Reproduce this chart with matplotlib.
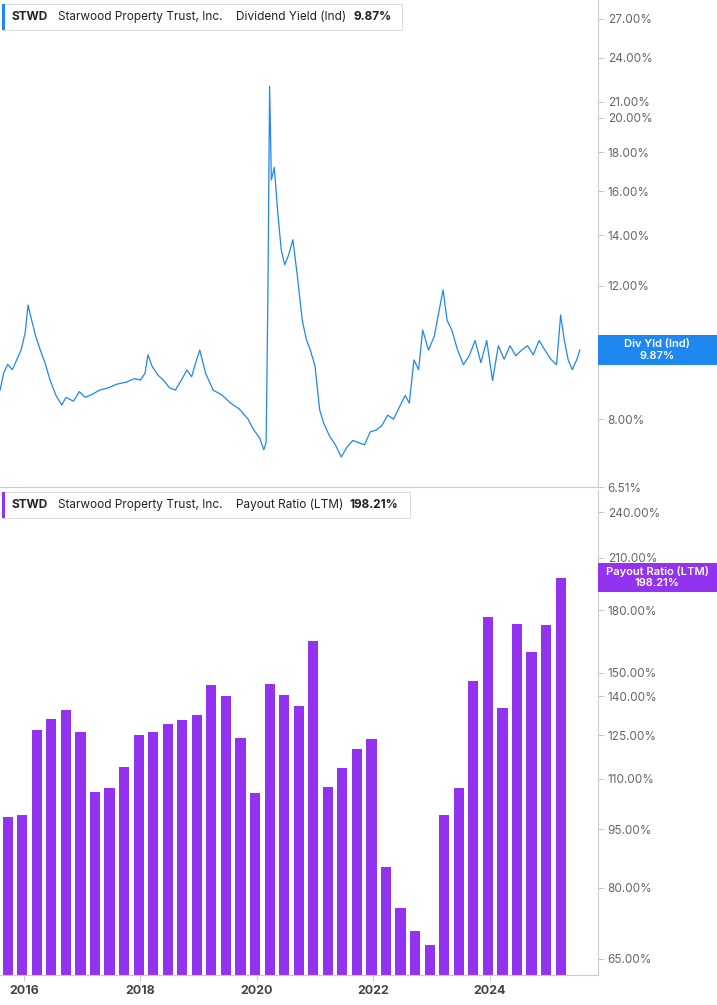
import matplotlib
matplotlib.use("Agg")
import matplotlib.pyplot as plt
from matplotlib.ticker import FixedLocator, NullLocator, FixedFormatter
from matplotlib.patches import Rectangle

plt.rcParams["font.family"] = "Inter"

# Dividend yield (%) - hand-read key points
yld_dates = [2015.59, 2015.65, 2015.72, 2015.80, 2015.88, 2015.95, 2016.02, 2016.07, 2016.12, 2016.20,
             2016.28, 2016.36, 2016.45, 2016.55, 2016.65, 2016.72, 2016.85, 2016.95, 2017.05, 2017.15,
             2017.30, 2017.45, 2017.60, 2017.75, 2017.90, 2018.00, 2018.08, 2018.13, 2018.20, 2018.30,
             2018.40, 2018.50, 2018.60, 2018.70, 2018.80, 2018.88, 2018.95, 2019.02, 2019.12, 2019.25,
             2019.40, 2019.55, 2019.70, 2019.85, 2019.95, 2020.05, 2020.12, 2020.16, 2020.19, 2020.22,
             2020.25, 2020.30, 2020.36, 2020.42, 2020.48, 2020.55, 2020.62, 2020.70, 2020.78, 2020.85,
             2020.92, 2021.00, 2021.08, 2021.15, 2021.25, 2021.35, 2021.45, 2021.55, 2021.65, 2021.75,
             2021.85, 2021.95, 2022.05, 2022.15, 2022.25, 2022.35, 2022.45, 2022.55, 2022.62, 2022.70,
             2022.78, 2022.85, 2022.95, 2023.05, 2023.12, 2023.20, 2023.27, 2023.35, 2023.45, 2023.55,
             2023.65, 2023.75, 2023.85, 2023.95, 2024.05, 2024.15, 2024.25, 2024.35, 2024.45, 2024.55,
             2024.65, 2024.75, 2024.85, 2024.95, 2025.05, 2025.15, 2025.22, 2025.28, 2025.35, 2025.42,
             2025.50, 2025.55]
yld_vals = [8.74, 9.20, 9.45, 9.30, 9.60, 9.87, 10.40, 11.32, 10.90, 10.30,
            9.87, 9.50, 9.00, 8.60, 8.35, 8.55, 8.45, 8.70, 8.55, 8.61,
            8.74, 8.80, 8.90, 8.95, 9.05, 9.01, 9.20, 9.73, 9.40, 9.15,
            9.00, 8.80, 8.74, 9.00, 9.29, 9.10, 9.50, 9.87, 9.20, 8.74,
            8.61, 8.40, 8.25, 8.00, 7.74, 7.55, 7.29, 7.45, 11.49, 22.00,
            16.55, 17.20, 15.00, 13.38, 12.79, 13.20, 13.80, 12.30, 10.82, 10.20,
            9.87, 9.40, 8.23, 7.90, 7.60, 7.40, 7.13, 7.35, 7.50, 7.45,
            7.40, 7.70, 7.74, 7.85, 8.10, 8.00, 8.30, 8.60, 8.40, 9.58,
            9.30, 10.49, 9.87, 10.30, 11.00, 11.85, 10.80, 10.49, 9.87, 9.44,
            9.70, 10.16, 9.50, 10.16, 9.00, 10.00, 9.60, 10.00, 9.70, 9.87,
            10.00, 9.73, 10.16, 9.87, 9.60, 9.44, 10.98, 10.20, 9.58, 9.30,
            9.60, 9.87]

# Payout ratio (LTM, %) quarterly
bar_dates = [2015.72 + 0.25 * i for i in range(39)]
payout = [98.4, 99.0, 127.0, 131.0, 134.6, 126.0, 105.9, 107.0, 114.0, 125.0,
          126.0, 129.0, 130.6, 132.6, 144.8, 140.0, 124.0, 105.5, 145.0, 140.5,
          136.0, 164.6, 107.5, 113.5, 120.0, 123.5, 85.0, 75.5, 70.5, 67.7,
          99.0, 107.0, 146.5, 176.6, 135.5, 173.0, 159.5, 172.5, 198.2]

top_ticks = [6.51, 8, 10, 12, 14, 16, 18, 20, 21, 24, 27]
top_labels = ["6.51%", "8.00%", "10.00%", "12.00%", "14.00%", "16.00%", "18.00%", "20.00%", "21.00%", "24.00%", "27.00%"]
bot_ticks = [65, 80, 95, 110, 125, 140, 150, 180, 210, 240]
bot_labels = ["65.00%", "80.00%", "95.00%", "110.00%", "125.00%", "140.00%", "150.00%", "180.00%", "210.00%", "240.00%"]
x_ticks = [2016, 2018, 2020, 2022, 2024]

BLUE = "#1e88f0"
PURPLE = "#9333f0"
GRAY = "#666666"

W, H = 717, 1005
fig = plt.figure(figsize=(W / 100, H / 100), dpi=100)
R = 598 / W
ax1 = fig.add_axes([0, 1 - 487 / H, R, 487 / H])
ax2 = fig.add_axes([0, 1 - 975 / H, R, (975 - 490) / H])
XMIN, XMAX = 2015.588, 2025.862

for ax in (ax1, ax2):
    ax.set_yscale("log")
    ax.set_xlim(XMIN, XMAX)
    for s in ("left", "top"):
        ax.spines[s].set_visible(False)
    ax.spines["right"].set_color("#cccccc")
    ax.spines["bottom"].set_color("#cccccc")
    ax.yaxis.tick_right()
    ax.yaxis.set_minor_locator(NullLocator())
    ax.tick_params(axis="y", which="both", length=4, color="#cccccc", labelsize=8.5, labelcolor=GRAY, pad=3)

ax1.plot(yld_dates, yld_vals, color=BLUE, lw=0.9)
ax1.set_ylim(6.51, 28.6)
ax1.yaxis.set_major_locator(FixedLocator(top_ticks))
ax1.yaxis.set_major_formatter(FixedFormatter(top_labels))
ax1.set_xticks([])

ax2.bar(bar_dates, payout, width=0.175, color=PURPLE)
ax2.set_ylim(62.0, 256)
ax2.yaxis.set_major_locator(FixedLocator(bot_ticks))
ax2.yaxis.set_major_formatter(FixedFormatter(bot_labels))
ax2.set_xticks(x_ticks)
ax2.set_xticklabels([str(t) for t in x_ticks])
ax2.tick_params(axis="x", length=4, color="#cccccc", labelsize=9, labelcolor="#444444", pad=3)
for t in ax2.get_xticklabels():
    t.set_fontweight("bold")

def header(y_px, color, metric, value, w_px, vx):
    y = 1 - y_px / H
    fig.patches.append(Rectangle((2 / W, y - 13 / H), w_px / W, 26 / H, transform=fig.transFigure,
                                 facecolor="white", edgecolor="#dddddd", lw=0.8, zorder=5))
    fig.patches.append(Rectangle((2 / W, y - 13 / H), 3 / W, 26 / H, transform=fig.transFigure,
                                 facecolor=color, edgecolor="none", zorder=6))
    kw = dict(fontsize=8.5, va="center", color="#222222", zorder=7)
    fig.text(12 / W, y, "STWD", fontweight="bold", **kw)
    fig.text(58 / W, y, "Starwood Property Trust, Inc.", **kw)
    fig.text(236 / W, y, metric, **kw)
    fig.text(vx / W, y, value, fontweight="bold", **kw)

header(17, BLUE, "Dividend Yield (Ind)", "9.87%", 400, 353)
header(505, PURPLE, "Payout Ratio (LTM)", "198.21%", 408, 349)

def tag(y_top, y_bot, color, l1, l2):
    fig.patches.append(Rectangle((598 / W, 1 - y_bot / H), (W - 598) / W, (y_bot - y_top) / H,
                                 transform=fig.transFigure, facecolor=color, edgecolor="none", zorder=8))
    yc = 1 - (y_top + y_bot) / 2 / H
    kw = dict(fontsize=8, color="white", ha="center", va="center", zorder=9, fontweight="semibold")
    fig.text(657 / W, yc + 6 / H, l1, **kw)
    fig.text(657 / W, yc - 6 / H, l2, **kw)

tag(335, 365, BLUE, "Div Yld (Ind)", "9.87%")
tag(563, 592, PURPLE, "Payout Ratio (LTM)", "198.21%")

fig.savefig("out.png", dpi=100, facecolor="white")
